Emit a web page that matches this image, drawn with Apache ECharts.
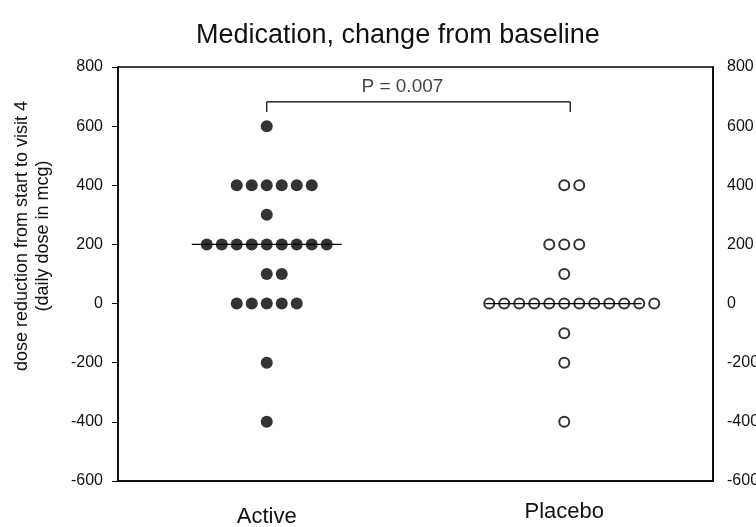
<!DOCTYPE html>
<html>

<head>
    <meta charset="utf-8">
    <title>Medication, change from baseline</title>
    <script src="https://cdn.jsdelivr.net/npm/echarts@6/dist/echarts.min.js"></script>
</head>

<body style="margin:0">
    <div id="main" style="width: 756px;height:527px;"></div>
    <script type="text/javascript">
        // groups and individual patient values (mcg)
        var groups = ['Active', 'Placebo'];
        var activeValues = [600, 400, 400, 400, 400, 400, 400, 300,
            200, 200, 200, 200, 200, 200, 200, 200, 200,
            100, 100, 0, 0, 0, 0, 0, -200, -400];
        var placeboValues = [400, 400, 200, 200, 200, 100,
            0, 0, 0, 0, 0, 0, 0, 0, 0, 0, 0, 0, -100, -200, -400];
        // first dot slot of each row (slot 0 = group centre), as stacked in the picture
        var activeRowStart = { '600': 0, '400': -2, '300': 0, '200': -4, '100': 0, '0': -2, '-200': 0, '-400': 0 };
        var placeboRowStart = { '400': 0, '200': -1, '100': 0, '0': -5, '-100': 0, '-200': 0, '-400': 0 };
        var yTicks = [-600, -400, -200, 0, 200, 400, 600, 800];
        var pLabel = 'P = 0.007';
        var bracketY = [648, 682];

        var dotStep = 15; // px between stacked dots

        function median(arr) {
            var s = arr.slice().sort(function (a, b) { return a - b; });
            var m = Math.floor(s.length / 2);
            return s.length % 2 ? s[m] : (s[m - 1] + s[m]) / 2;
        }

        function stack(values, rowStart, gi) {
            var count = {};
            return values.map(function (v) {
                var k = String(v);
                count[k] = (count[k] || 0);
                var slot = rowStart[k] + count[k];
                count[k]++;
                return { value: [gi, v], symbolOffset: [slot * dotStep, 0] };
            });
        }

        var myChart = echarts.init(document.getElementById('main'));
        var textColor = '#111';
        var font = 'Liberation Sans, Arial, sans-serif';

        myChart.setOption({
            animation: false,
            backgroundColor: '#fff',
            textStyle: { fontFamily: font },
            title: {
                text: 'Medication, change from baseline',
                left: 191,
                top: 17,
                textStyle: { fontSize: 27, fontWeight: 'normal', color: textColor, fontFamily: font }
            },
            graphic: [{
                type: 'text',
                x: 33,
                y: 236,
                rotation: Math.PI / 2,
                style: {
                    text: 'dose reduction from start to visit 4\n(daily dose in mcg)',
                    fontSize: 18,
                    lineHeight: 21,
                    fill: textColor,
                    fontFamily: font,
                    align: 'center',
                    verticalAlign: 'middle'
                }
            }],
            grid: {
                left: 118,
                right: 43,
                top: 67,
                bottom: 46,
                outerBoundsMode: 'none',
                containLabel: false,
                show: true,
                borderColor: '#000',
                borderWidth: 1.5
            },
            xAxis: [{
                type: 'category',
                data: [{ value: groups[0], textStyle: { padding: [5, 0, 0, 0] } }, groups[1]],
                position: 'bottom',
                axisLine: { onZero: false, lineStyle: { color: '#000', width: 1.5 } },
                axisTick: { show: false },
                axisLabel: { fontSize: 22, color: textColor, margin: 20 }
            }, {
                type: 'value',
                min: -0.5,
                max: 1.5,
                show: false
            }],
            yAxis: [{
                type: 'value',
                min: yTicks[0],
                max: yTicks[yTicks.length - 1],
                interval: 200,
                axisLine: { show: true, onZero: false, lineStyle: { color: '#000', width: 1.5 } },
                axisTick: { show: true, inside: false, length: 6, lineStyle: { color: '#000' } },
                axisLabel: { fontSize: 16, color: textColor, margin: 15 },
                splitLine: { show: false }
            }, {
                type: 'value',
                position: 'right',
                min: yTicks[0],
                max: yTicks[yTicks.length - 1],
                interval: 200,
                axisLine: { show: true, onZero: false, lineStyle: { color: '#000', width: 1.5 } },
                axisTick: { show: false },
                axisLabel: { fontSize: 16, color: textColor, margin: 14 },
                splitLine: { show: false }
            }],
            series: [{
                // median lines
                type: 'line',
                xAxisIndex: 1,
                symbol: 'none',
                z: 1,
                lineStyle: { color: '#000', width: 1.2 },
                data: [[-0.252, median(activeValues)], [0.252, median(activeValues)]]
            }, {
                type: 'line',
                xAxisIndex: 1,
                symbol: 'none',
                z: 1,
                lineStyle: { color: '#000', width: 1.2 },
                data: [[1 - 0.265, median(placeboValues)], [1 + 0.26, median(placeboValues)]]
            }, {
                name: 'Active',
                type: 'scatter',
                xAxisIndex: 1,
                symbol: 'circle',
                symbolSize: 12,
                z: 3,
                itemStyle: { color: '#000' },
                data: stack(activeValues, activeRowStart, 0)
            }, {
                name: 'Placebo',
                type: 'scatter',
                xAxisIndex: 1,
                symbol: 'circle',
                symbolSize: 10,
                z: 3,
                itemStyle: { color: 'rgba(0,0,0,0)', borderColor: '#000', borderWidth: 2 },
                data: stack(placeboValues, placeboRowStart, 1)
            }, {
                // significance bracket
                type: 'line',
                xAxisIndex: 1,
                symbol: 'none',
                z: 2,
                lineStyle: { color: '#000', width: 1.2 },
                data: [[0, bracketY[0]], [0, bracketY[1]], [1.02, bracketY[1]], [1.02, bracketY[0]]]
            }, {
                type: 'scatter',
                xAxisIndex: 1,
                symbolSize: 0,
                label: {
                    show: true,
                    position: 'top',
                    distance: 6,
                    formatter: pLabel,
                    fontSize: 19,
                    color: textColor
                },
                data: [[0.456, bracketY[1]]]
            }]
        });
    </script>
</body>

</html>
